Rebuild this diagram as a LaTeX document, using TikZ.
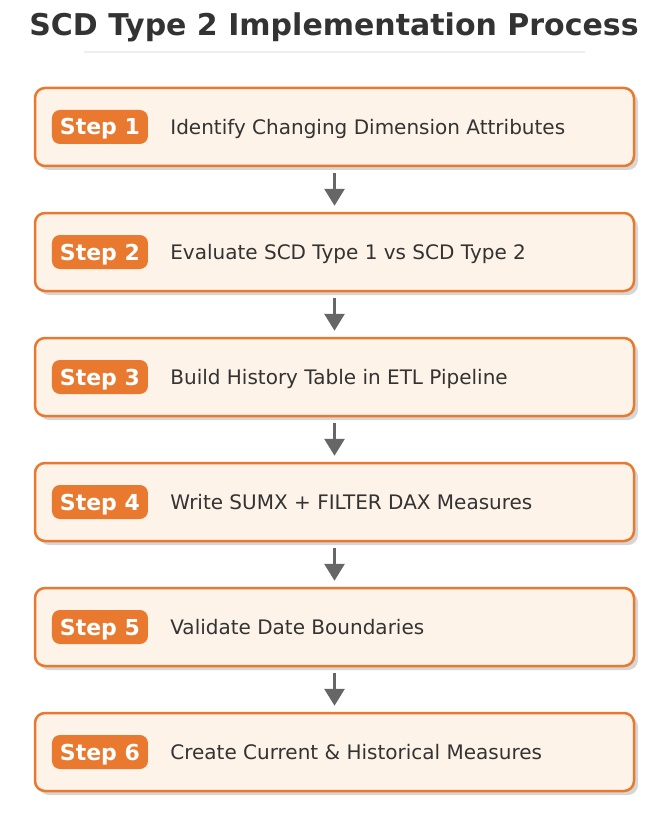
\documentclass[tikz,border=0pt]{standalone}
\usepackage{fontspec}
\setmainfont{DejaVu Sans}
\usetikzlibrary{positioning}
\usetikzlibrary{arrows.meta}
\usetikzlibrary{shadows}
\definecolor{steporange}{HTML}{E8792F}
\definecolor{stepfill}{HTML}{FEF3E8}
\definecolor{shadowgray}{HTML}{D6D6D6}
\definecolor{textgray}{HTML}{333333}
\definecolor{arrowgray}{HTML}{666666}
\definecolor{rulegray}{HTML}{EEEEEE}

\begin{document}
\begin{tikzpicture}[x=1pt, y=-1pt,
    stepcard/.style={draw=steporange, line width=2.5pt, fill=stepfill, rounded corners=10pt,
        minimum width=599pt, minimum height=78pt, inner sep=0pt,
        drop shadow={shadow xshift=4pt, shadow yshift=-4pt, fill=shadowgray, opacity=1}},
    badge/.style={fill=steporange, rounded corners=8pt, minimum width=96pt, minimum height=34pt,
        inner sep=0pt, text=white, text height=20pt, text depth=4pt,
        font=\bfseries\fontsize{22}{26}\selectfont},
    steptext/.style={anchor=west, inner sep=0pt, text=textgray, text height=18.6pt, text depth=4pt,
        font=\fontsize{20}{24}\selectfont},
    flow/.style={draw=arrowgray, line width=3pt, -{Triangle[width=20pt,length=17pt]}}]
    \useasboundingbox (0,0) rectangle (670,813);
    \node[anchor=base, inner sep=0pt, text=textgray, font=\bfseries\fontsize{30}{36}\selectfont] (title) at (334,36) {SCD Type 2 Implementation Process};
    \draw[rulegray, line width=2pt] (84,52) -- (585,52);
    % step cards
    \foreach \n/\what in {1/Identify Changing Dimension Attributes,
                          2/Evaluate SCD Type 1 vs SCD Type 2,
                          3/Build History Table in ETL Pipeline,
                          4/Write SUMX + FILTER DAX Measures,
                          5/Validate Date Boundaries,
                          6/Create Current \& Historical Measures} {
        \pgfmathsetmacro{\cy}{127+(\n-1)*125}
        \node[stepcard] (card\n) at (334.5,\cy) {};
        \node[badge, right=18pt of card\n.west] (badge\n) {Step \n};
        \node[steptext, right=22pt of badge\n] (label\n) {\what};
    }
    % arrows
    \foreach \n [evaluate=\n as \prev using int(\n-1)] in {2,...,6}
        \draw[flow] ([yshift=-6pt]card\prev.south) -- ([yshift=6pt]card\n.north);
\end{tikzpicture}
\end{document}
